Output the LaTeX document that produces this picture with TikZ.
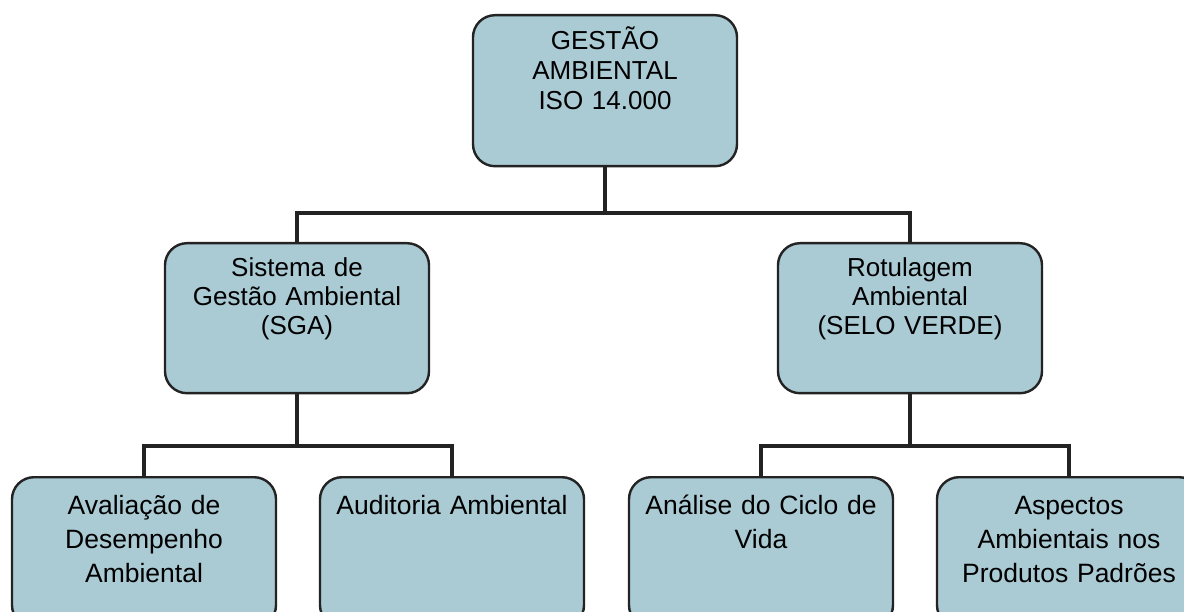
\documentclass[tikz,border=0pt]{standalone}
\usepackage{fontspec}
\setmainfont{Liberation Sans}
\usepackage{tikz}

\definecolor{boxblue}{RGB}{170,202,212}
\definecolor{linegray}{RGB}{35,35,35}

\begin{document}
\begin{tikzpicture}[x=1pt,y=-1pt,
    every node/.style={draw=linegray,line width=2.4pt,fill=boxblue,rounded corners=22pt,
        inner sep=0pt,text width=264pt,align=center,anchor=north,
        font=\fontsize{26}{30}\selectfont},
    level1/.style={text height=34pt,text depth=117pt},
    level2/.style={text height=33pt,text depth=117pt,font=\fontsize{26}{29}\selectfont},
    level3/.style={text height=37pt,text depth=113pt,font=\fontsize{26.5}{34}\selectfont},
    link/.style={draw=linegray,line width=4.5pt}
]
    \clip (0,0) rectangle (1184,612);
    \fill[white] (0,0) rectangle (1184,612);

    \node[level1] (gestao) at (605,14) {GESTÃO\\AMBIENTAL\\ISO 14.000};

    \node[level2] (sga) at (297,242) {Sistema de\\Gestão Ambiental\\(SGA)};
    \node[level2] (rotulo) at (910,242) {Rotulagem\\Ambiental\\(SELO VERDE)};

    \node[level3] (avaliacao) at (144,476) {Avaliação de\\Desempenho\\Ambiental};
    \node[level3] (auditoria) at (452,476) {Auditoria Ambiental};
    \node[level3] (analise) at (761,476) {Análise do Ciclo de\\Vida};
    \node[level3] (aspectos) at (1069,476) {Aspectos\\Ambientais nos\\Produtos Padrões};

    % buses
    \coordinate (bus1) at (605,213);
    \coordinate (bus2) at (297,446);
    \coordinate (bus3) at (910,446);

    \draw[link] (gestao.south) -- (bus1);
    \draw[link] (sga.north) |- (bus1) -| (rotulo.north);
    \draw[link] (sga.south) -- (bus2);
    \draw[link] (avaliacao.north) |- (bus2) -| (auditoria.north);
    \draw[link] (rotulo.south) -- (bus3);
    \draw[link] (analise.north) |- (bus3) -| (aspectos.north);
\end{tikzpicture}
\end{document}
